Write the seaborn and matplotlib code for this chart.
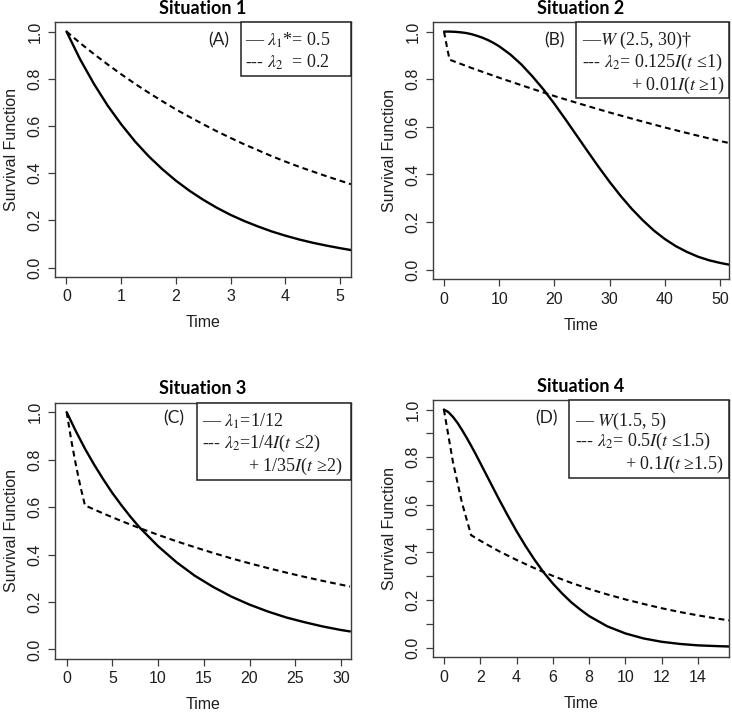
import matplotlib
matplotlib.use("Agg")
import matplotlib.pyplot as plt
import seaborn as sns
import pandas as pd
from matplotlib.patches import Rectangle
from matplotlib.ticker import MultipleLocator

# ---- values ----
# Situation 1
s1_time = [0, 0.25, 0.5, 0.75, 1, 1.25, 1.5, 1.75, 2, 2.25, 2.5, 2.75, 3,
           3.25, 3.5, 3.75, 4, 4.25, 4.5, 4.75, 5, 5.2]
s1_solid = [1.0, 0.882, 0.779, 0.687, 0.607, 0.535, 0.472, 0.417, 0.368, 0.325,
            0.287, 0.253, 0.223, 0.197, 0.174, 0.153, 0.135, 0.119, 0.105,
            0.093, 0.082, 0.074]
s1_dashed = [1.0, 0.951, 0.905, 0.861, 0.819, 0.779, 0.741, 0.705, 0.670, 0.638,
             0.607, 0.577, 0.549, 0.522, 0.497, 0.472, 0.449, 0.427, 0.407,
             0.387, 0.368, 0.353]

# Situation 2
s2_time_solid = [0, 1, 2, 3, 4, 5, 6, 7, 8, 9, 10, 12, 14, 16, 18, 20, 22, 24,
                 26, 28, 30, 32, 34, 36, 38, 40, 42, 44, 46, 48, 50, 52]
s2_solid = [1.0, 1.0, 0.999, 0.997, 0.994, 0.989, 0.982, 0.974, 0.964, 0.952,
            0.938, 0.904, 0.862, 0.812, 0.757, 0.696, 0.631, 0.564, 0.497,
            0.431, 0.368, 0.309, 0.255, 0.207, 0.164, 0.128, 0.098, 0.074,
            0.054, 0.039, 0.028, 0.019]
s2_time_dashed = [0, 0.5, 1, 5, 10, 15, 20, 25, 30, 35, 40, 45, 50, 52]
s2_dashed = [1.0, 0.939, 0.882, 0.847, 0.806, 0.767, 0.729, 0.694, 0.660,
             0.628, 0.597, 0.568, 0.540, 0.530]

# Situation 3
s3_time_solid = [0, 1, 2, 3, 4, 5, 6, 7, 8, 10, 12, 14, 16, 18, 20, 22, 24, 26,
                 28, 30, 31]
s3_solid = [1.0, 0.920, 0.846, 0.779, 0.717, 0.659, 0.607, 0.558, 0.513, 0.435,
            0.368, 0.311, 0.264, 0.223, 0.189, 0.160, 0.135, 0.115, 0.097,
            0.082, 0.076]
s3_time_dashed = [0, 0.5, 1, 1.5, 2, 4, 6, 8, 10, 12, 14, 16, 18, 20, 22, 24,
                  26, 28, 30, 31]
s3_dashed = [1.0, 0.882, 0.779, 0.687, 0.607, 0.573, 0.541, 0.511, 0.483, 0.456,
             0.431, 0.407, 0.384, 0.363, 0.343, 0.324, 0.306, 0.289, 0.273, 0.265]

# Situation 4
s4_time_solid = [0, 0.25, 0.5, 0.75, 1, 1.25, 1.5, 1.75, 2, 2.5, 3, 3.5, 4,
                 4.5, 5, 5.5, 6, 6.5, 7, 7.5, 8, 9, 10, 11, 12, 13, 14, 15, 15.8]
s4_solid = [1.0, 0.989, 0.969, 0.944, 0.914, 0.882, 0.848, 0.813, 0.776, 0.702,
            0.628, 0.557, 0.489, 0.426, 0.368, 0.315, 0.269, 0.228, 0.191,
            0.160, 0.132, 0.089, 0.059, 0.038, 0.024, 0.015, 0.009, 0.006,
            0.004]
s4_time_dashed = [0, 0.5, 1, 1.5, 2, 3, 4, 5, 6, 7, 8, 9, 10, 11, 12, 13, 14,
                  15, 15.8]
s4_dashed = [1.0, 0.779, 0.607, 0.472, 0.449, 0.406, 0.368, 0.333, 0.301, 0.272,
             0.246, 0.223, 0.202, 0.183, 0.165, 0.149, 0.135, 0.122, 0.113]

titles = ["Situation 1", "Situation 2", "Situation 3", "Situation 4"]
tags = ["(A)", "(B)", "(C)", "(D)"]
legend_lines = [
    ["— $\\lambda_1$*= 0.5", "--- $\\lambda_2$  = 0.2"],
    ["—$W$ (2.5, 30)†", "--- $\\lambda_2$= 0.125$I$($t$ ≤1)", "+ 0.01$I$($t$ ≥1)"],
    ["— $\\lambda_1$=1/12", "--- $\\lambda_2$=1/4$I$($t$ ≤2)", "+ 1/35$I$($t$ ≥2)"],
    ["— $W$(1.5, 5)", "--- $\\lambda_2$= 0.5$I$($t$ ≤1.5)", "+ 0.1$I$($t$ ≥1.5)"],
]
x_ticks = [[0, 1, 2, 3, 4, 5], [0, 10, 20, 30, 40, 50],
           [0, 5, 10, 15, 20, 25, 30], [0, 2, 4, 6, 8, 10, 12, 14]]
y_ticks = [0.0, 0.2, 0.4, 0.6, 0.8, 1.0]

curves = [
    (s1_time, s1_solid, s1_time, s1_dashed),
    (s2_time_solid, s2_solid, s2_time_dashed, s2_dashed),
    (s3_time_solid, s3_solid, s3_time_dashed, s3_dashed),
    (s4_time_solid, s4_solid, s4_time_dashed, s4_dashed),
]

# ---- layout (figure fractions / axes fractions) ----
axes_rects = [
    [0.0751, 0.611, 0.4044, 0.358],
    [0.5915, 0.608, 0.4044, 0.361],
    [0.0751, 0.0745, 0.4044, 0.360],
    [0.5915, 0.0772, 0.4044, 0.361],
]
x_limits = [(-0.21, 5.2), (-2.0, 51.6), (-1.28, 31.1), (-0.6, 15.7)]
legend_box = [(0.628, 0.788), (0.483, 0.704), (0.480, 0.699), (0.459, 0.697)]
legend_text_x = [0.642, 0.503, 0.497, 0.48]
legend_right_x = [None, 0.986, 0.97, 0.98]
legend_rows_y = [[0.929, 0.843], [0.93, 0.843, 0.755],
                 [0.926, 0.84, 0.75], [0.918, 0.837, 0.75]]
tag_pos = [(0.554, 0.929), (0.412, 0.93), (0.402, 0.94), (0.385, 0.93)]

sns.set_theme(style="ticks")
plt.rcParams["font.family"] = ["Liberation Sans", "DejaVu Sans"]
plt.rcParams["mathtext.fontset"] = "stix"

frame_col = "#3c3c3c"
text_col = "#1e1e1e"

fig = plt.figure(figsize=(7.32, 7.12), dpi=100)

for i in range(4):
    ax = fig.add_axes(axes_rects[i])
    t_s, y_s, t_d, y_d = curves[i]
    solid_df = pd.DataFrame({"Time": t_s, "S": y_s})
    dashed_df = pd.DataFrame({"Time": t_d, "S": y_d})
    sns.lineplot(data=solid_df, x="Time", y="S", ax=ax, color="black",
                 linewidth=1.7, sort=False)
    sns.lineplot(data=dashed_df, x="Time", y="S", ax=ax, color="black",
                 linewidth=1.5, linestyle=(0, (2.8, 1.9)), sort=False)

    ax.set_xlim(*x_limits[i])
    ax.set_ylim(-0.04, 1.04)
    ax.set_xticks(x_ticks[i])
    ax.set_yticks(y_ticks)
    ax.set_yticklabels([f"{v:.1f}" for v in y_ticks])
    if i == 3:
        ax.yaxis.set_minor_locator(MultipleLocator(0.1))
        ax.tick_params(axis="y", which="minor", length=5, width=0.9,
                       color=frame_col, direction="out")

    for side in ["left", "right", "top", "bottom"]:
        ax.spines[side].set_visible(True)
        ax.spines[side].set_color(frame_col)
        ax.spines[side].set_linewidth(1.0)
    ax.tick_params(axis="both", which="major", length=5, width=0.9,
                   color=frame_col, direction="out", labelsize=11.5,
                   labelcolor=text_col, pad=4)
    ax.tick_params(axis="y", labelrotation=90)
    for lab in ax.get_yticklabels():
        lab.set_va("center")

    ax.set_xlabel("Time", fontsize=11.5, color=text_col)
    ax.set_ylabel("Survival Function", fontsize=11.5, color=text_col)
    ax.xaxis.set_label_coords(0.5, -0.15)
    ax.yaxis.set_label_coords(-0.12, 0.5)
    ax.set_title(titles[i], fontsize=13, fontweight="bold",
                 family=["Lato", "DejaVu Sans"], color="black", pad=6)

    # legend box drawn like the original (text with dash glyphs)
    bx, by = legend_box[i]
    ax.add_patch(Rectangle((bx, by), 1 - bx, 1 - by, transform=ax.transAxes,
                           facecolor="white", edgecolor="#222222",
                           linewidth=1.1, zorder=5, clip_on=False))
    rows = legend_lines[i]
    for j, txt in enumerate(rows):
        if j == 2:
            ax.text(legend_right_x[i], legend_rows_y[i][j], txt,
                    transform=ax.transAxes, ha="right", va="center",
                    fontsize=13, family=["Liberation Serif", "DejaVu Serif"],
                    color=text_col, zorder=6)
        else:
            ax.text(legend_text_x[i], legend_rows_y[i][j], txt,
                    transform=ax.transAxes, ha="left", va="center",
                    fontsize=13, family=["Liberation Serif", "DejaVu Serif"],
                    color=text_col, zorder=6)
    tx, ty = tag_pos[i]
    ax.text(tx, ty, tags[i], transform=ax.transAxes, ha="center", va="center",
            fontsize=12.5, family=["Lato", "DejaVu Sans"], color=text_col)

fig.savefig("out.png", dpi=100)
